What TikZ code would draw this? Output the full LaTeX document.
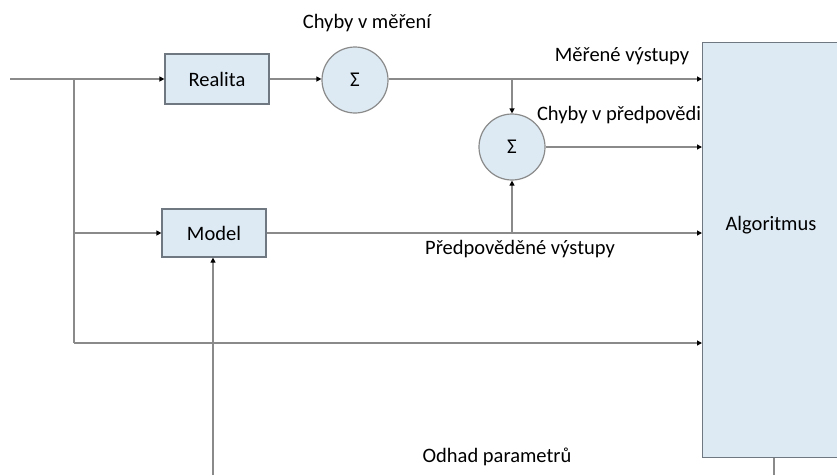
\documentclass[tikz,border=0pt]{standalone}
\usepackage{fontspec}
\setmainfont{Carlito}
\usetikzlibrary{arrows.meta}
\definecolor{boxfill}{HTML}{DDEAF4}
\definecolor{boxline}{HTML}{6F7880}
\definecolor{wire}{HTML}{8A8A8A}
\tikzset{
  blk/.style={draw=boxline, line width=1.2pt, fill=boxfill, font=\fontsize{20.5}{22}\selectfont, inner sep=0pt},
  sumnode/.style={circle, draw=wire, line width=1.2pt, fill=boxfill, minimum size=66pt, inner sep=0pt, font=\fontsize{21}{22}\selectfont},
  wirestyle/.style={draw=wire, line width=1.2pt},
  arr/.style={wirestyle, -{Triangle[length=5pt,width=5pt,fill=black,color=black]}},
  lbl/.style={font=\fontsize{20.5}{22}\selectfont, inner sep=0pt}
}
\begin{document}
\begin{tikzpicture}[x=1pt,y=-1pt]
\useasboundingbox (0,0) rectangle (837,475);
\begin{scope}
\clip (0,0) rectangle (837,475);
% Algorithmus box (extends past the right edge)
\node[blk, minimum width=160pt, minimum height=415pt, anchor=north west] (alg) at (702,42) {};
\node[lbl] (algt) at (771,225) {Algoritmus};
\end{scope}
\node[blk, minimum width=104pt, minimum height=50pt] (real) at (217,79) {Realita};
\node[blk, minimum width=104pt, minimum height=48pt] (model) at (214,233) {Model};
\node[sumnode] (s1) at (355,80) {Σ};
\node[sumnode] (s2) at (512,147) {Σ};

\coordinate (in) at (10,79);
\coordinate (j1) at (74,79);
\coordinate (j2) at (74,233);
\coordinate (j3) at (74,343);
\coordinate (j4) at (512,79);
\coordinate (j5) at (512,233);
\coordinate (pbot) at (213,475);
\coordinate (abot) at (774,475);

\draw[arr] (in) -- (real.west);
\draw[wirestyle] (j1) -- (j3);
\draw[arr] (j2) -- (model.west);
\draw[arr] (j3) -- (alg.west |- j3);
\draw[arr] (real.east) -- (s1.west |- real.east);
\draw[arr] (s1.east |- real.east) -- (alg.west |- real.east);
\draw[arr] (j4) -- (s2.north);
\draw[arr] (s2.east) -- (alg.west |- s2.east);
\draw[arr] (model.east) -- (alg.west |- model.east);
\draw[arr] (j5) -- (s2.south);
\draw[arr] (pbot) -- (model.south -| pbot);
\draw[wirestyle] (alg.south -| abot) -- (abot);

\node[lbl] (l1) at (367,23) {Chyby v měření};
\node[lbl] (l2) at (622,56) {Měřené výstupy};
\node[lbl] (l3) at (619,115) {Chyby v předpovědi};
\node[lbl] (l4) at (520,249) {Předpověděné výstupy};
\node[lbl] (l5) at (497,457) {Odhad parametrů};
\end{tikzpicture}
\end{document}
